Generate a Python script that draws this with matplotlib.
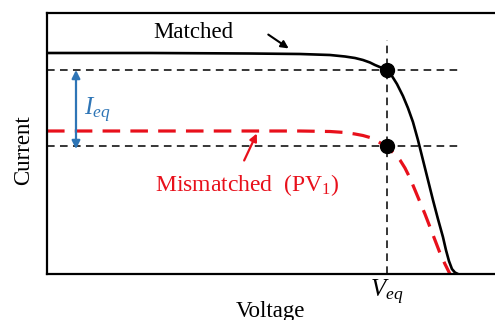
import matplotlib
matplotlib.use("Agg")
import matplotlib.pyplot as plt

plt.rcParams['font.family'] = ['Liberation Serif', 'DejaVu Serif']
plt.rcParams['mathtext.fontset'] = 'custom'
plt.rcParams['mathtext.rm'] = 'Liberation Serif'
plt.rcParams['mathtext.it'] = 'Liberation Serif:italic'

# Data (arbitrary units)
matched_v = [0, 10.3, 20.3, 25.3, 28.3, 29.8, 30.8, 31.6, 32.3, 32.8, 33.4, 34.0, 34.5, 35.0,
             35.6, 36.1, 36.6, 37.1, 37.6, 38.1, 38.6, 39.1, 39.6, 39.9, 40.2, 40.5, 40.8, 41.1]
matched_i = [22.1, 22.1, 22.05, 22.0, 21.9, 21.75, 21.6, 21.4, 21.15, 20.9, 20.65, 20.3, 19.8, 19.0,
             17.8, 16.6, 15.2, 13.4, 11.4, 9.4, 7.4, 5.5, 3.7, 2.4, 1.3, 0.5, 0.15, 0.0]
mism_v = [0, 15.3, 25.3, 28.3, 29.8, 30.8, 31.6, 32.3, 33.0, 33.6, 34.2, 34.8, 35.3, 35.8,
          36.3, 36.8, 37.3, 37.8, 38.3, 38.8, 39.3, 39.8, 40.3]
mism_i = [14.3, 14.3, 14.3, 14.25, 14.15, 14.0, 13.85, 13.65, 13.3, 12.95, 12.5, 12.0, 11.4, 10.6,
          9.6, 8.4, 7.2, 6.0, 4.7, 3.4, 2.1, 1.0, 0.0]
v_eq = 34.0
i_matched = 20.4
i_mism = 12.8

RED = '#E8101B'
BLUE = '#2E75B6'

fig = plt.figure(figsize=(4.95, 3.2), dpi=100)
ax = fig.add_axes([47/495, 46/320, 1 - 47/495 + 0.01, 261/320])
ax.set_xlim(0, 45.3)
ax.set_ylim(0, 26.1)
ax.spines['right'].set_visible(False)
for s in ['left', 'top', 'bottom']:
    ax.spines[s].set_linewidth(1.6)
ax.set_xticks([])
ax.set_yticks([])

# guide lines
ax.plot([0, 41.3], [i_matched, i_matched], color='black', lw=1.1, ls=(0, (5, 3.5)))
ax.plot([0, 41.3], [i_mism, i_mism], color='black', lw=1.1, ls=(0, (5, 3.5)))
ax.plot([v_eq, v_eq], [0, 23.4], color='black', lw=1.1, ls=(0, (5, 3.5)))

ax.plot(mism_v, mism_i, color=RED, lw=2.3, ls=(0, (5.5, 3.2)), solid_joinstyle='round')
ax.plot(matched_v, matched_i, color='black', lw=1.9, solid_joinstyle='round')

ax.plot([v_eq, v_eq], [i_matched, i_mism], 'o', color='black', ms=10)

# I_eq arrow
ax.annotate('', xy=(2.9, i_mism - 0.3), xytext=(2.9, i_matched),
            arrowprops=dict(arrowstyle='<|-|>', color=BLUE, lw=1.6, mutation_scale=12,
                            shrinkA=0, shrinkB=0))
ax.text(3.7, 16.4, r'$I_{eq}$', color=BLUE, fontsize=18, va='center', ha='left')

# labels with arrows
ax.text(14.6, 24.2, 'Matched', fontsize=16.5, ha='center', va='center')
ax.annotate('', xy=(24.4, 22.4), xytext=(21.9, 24.1),
            arrowprops=dict(arrowstyle='-|>', color='black', lw=1.5, mutation_scale=11))
ax.text(20.0, 8.9, r'Mismatched  (PV$_1$)', fontsize=17, ha='center', va='center', color=RED)
ax.annotate('', xy=(21.1, 14.3), xytext=(19.6, 11.1),
            arrowprops=dict(arrowstyle='-|>', color=RED, lw=1.6, mutation_scale=11))

ax.text(v_eq, -1.8, r'$V_{eq}$', fontsize=18, ha='center', va='center', clip_on=False)
ax.text(22.3, -3.8, 'Voltage', fontsize=16.5, ha='center', va='center', clip_on=False)
ax.text(-2.3, 12.4, 'Current', fontsize=16.5, ha='center', va='center', rotation=90, clip_on=False)

fig.savefig('out.png', dpi=100)
